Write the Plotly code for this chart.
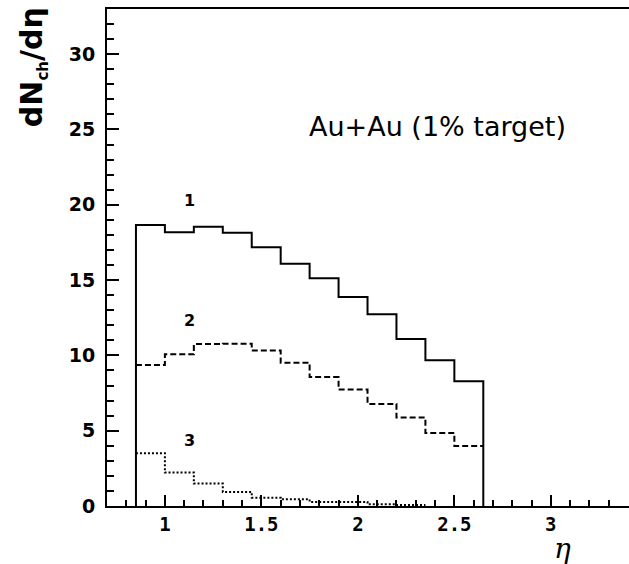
import plotly.graph_objects as go

# bin edges in eta
bin_edges = [0.85, 1.0, 1.15, 1.3, 1.45, 1.6, 1.75, 1.9, 2.05, 2.2, 2.35, 2.5, 2.65]
curve1 = [18.65, 18.18, 18.55, 18.15, 17.18, 16.09, 15.13, 13.87, 12.73, 11.09, 9.67, 8.29]
curve2 = [9.36, 10.07, 10.75, 10.78, 10.33, 9.51, 8.56, 7.73, 6.78, 5.87, 4.85, 3.98]
curve3 = [3.51, 2.22, 1.49, 0.93, 0.55, 0.45, 0.27, 0.27, 0.11, 0.06, 0.0, 0.0]
curve_labels = ["1", "2", "3"]
label_pos = [(1.128, 20.3), (1.128, 12.35), (1.125, 4.34)]
annotation_text = "Au+Au (1% target)"

fig = go.Figure()

# solid histogram, closed to zero at both ends
x1 = [bin_edges[0]] + bin_edges + [bin_edges[-1]]
y1 = [0] + curve1 + [curve1[-1]] + [0]
fig.add_trace(go.Scatter(x=x1, y=y1, mode="lines", line=dict(shape="hv", color="black", width=2),
                         hoverinfo="skip", showlegend=False))

fig.add_trace(go.Scatter(x=bin_edges, y=curve2 + [curve2[-1]], mode="lines",
                         line=dict(shape="hv", color="black", width=2, dash="6px,3px"),
                         hoverinfo="skip", showlegend=False))

fig.add_trace(go.Scatter(x=bin_edges[:11], y=curve3[:10] + [curve3[9]], mode="lines",
                         line=dict(shape="hv", color="black", width=2, dash="2px,2px"),
                         hoverinfo="skip", showlegend=False))

for lab, (lx, ly) in zip(curve_labels, label_pos):
    fig.add_annotation(x=lx, y=ly, text="<b>" + lab + "</b>", showarrow=False,
                       font=dict(family="DejaVu Sans", size=16, color="black"))

fig.add_annotation(x=2.415, y=25.2, text=annotation_text, showarrow=False,
                   font=dict(family="DejaVu Sans", size=27, color="black"))

fig.add_annotation(xref="paper", yref="paper", x=0.872, y=-0.085, text="<i>η</i>", showarrow=False,
                   font=dict(family="DejaVu Serif", size=28, color="black"),
                   xanchor="center", yanchor="middle")

fig.add_annotation(xref="paper", yref="paper", x=-0.1418, y=0.883, textangle=-90,
                   text="<b>dN<sub><span style='font-size:15px'>ch</span></sub>/dη</b>", showarrow=False,
                   font=dict(family="DejaVu Sans", size=30, color="black"),
                   xanchor="center", yanchor="middle")

fig.update_layout(
    width=629, height=564,
    margin=dict(l=107, r=0, t=9, b=58),
    paper_bgcolor="white", plot_bgcolor="white",
    xaxis=dict(range=[0.70, 3.405], tickmode="linear", tick0=0, dtick=0.5,
               ticks="inside", ticklen=11, tickwidth=2, tickcolor="black",
               showline=True, linewidth=2, linecolor="black", mirror=True,
               showgrid=False, zeroline=False,
               tickfont=dict(family="DejaVu Sans Mono", size=19, color="black", weight="bold"),
               minor=dict(dtick=0.1, tick0=0, ticks="inside", ticklen=6, tickwidth=2, tickcolor="black", showgrid=False)),
    yaxis=dict(range=[0, 33], tickmode="linear", tick0=0, dtick=5,
               ticks="inside", ticklen=12, tickwidth=2, tickcolor="black",
               showline=True, linewidth=2, linecolor="black", mirror=False,
               showgrid=False, zeroline=False, ticklabelstandoff=6,
               tickfont=dict(family="DejaVu Sans", size=19, color="black", weight="bold"),
               minor=dict(dtick=1, tick0=0, ticks="inside", ticklen=7, tickwidth=2, tickcolor="black", showgrid=False)),
)

fig.write_html("out.html", config={"displayModeBar": False},
               post_script="document.body.style.margin='0px';document.body.style.overflow='hidden';")
